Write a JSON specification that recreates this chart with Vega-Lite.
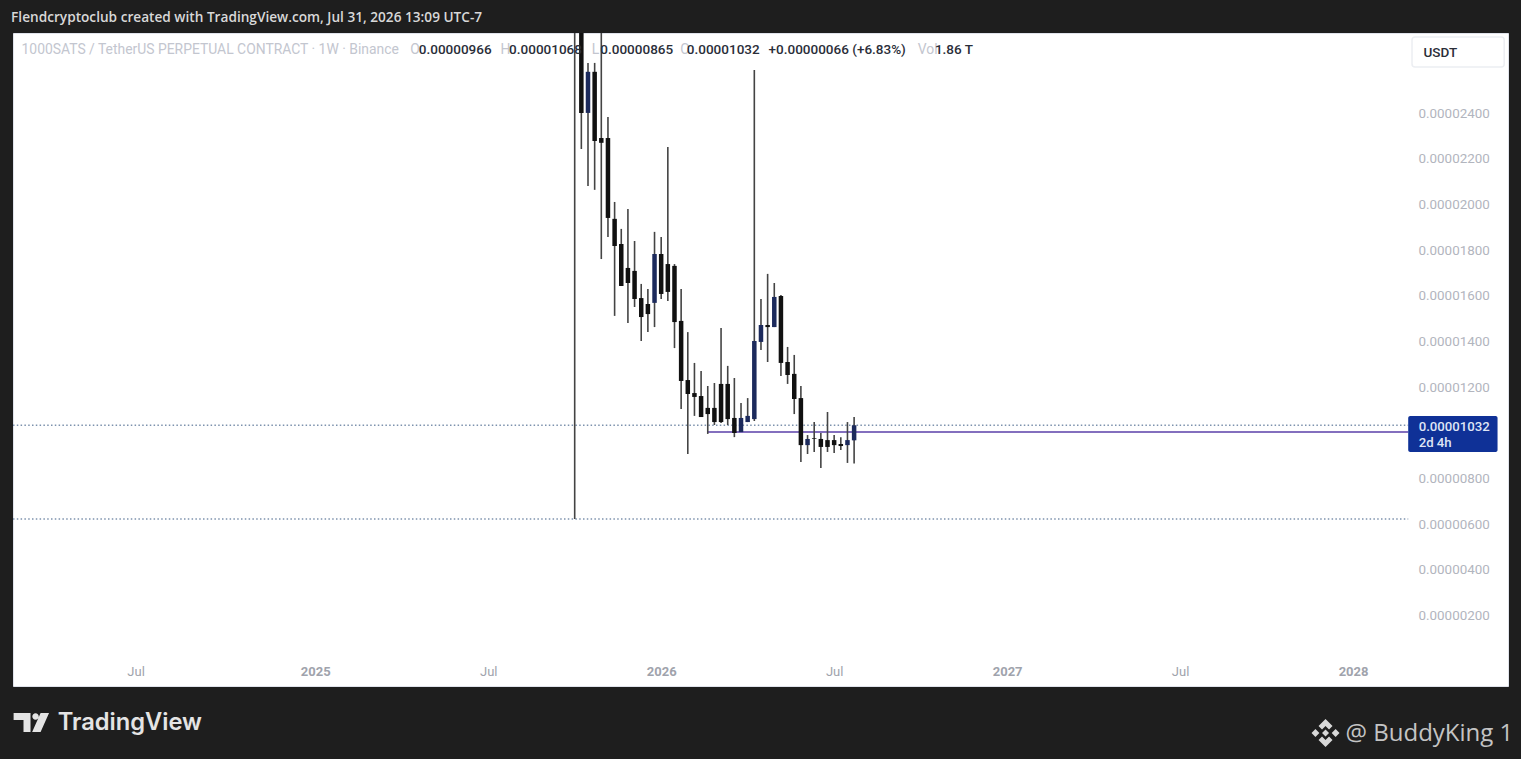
{
  "$schema": "https://vega.github.io/schema/vega-lite/v6.json",
  "autosize": {"type": "none"},
  "width": 1495,
  "height": 653,
  "padding": {"left": 13, "top": 33, "right": 13, "bottom": 73},
  "background": "#1e1e1e",
  "view": {"fill": "#ffffff", "stroke": "#e0e3eb"},
  "config": {"font": "Roboto"},
  "datasets": {
    "candles": [
      {"date": "2025-10-06", "open": 0.000032, "high": 0.000034, "low": 0.00000621, "close": 0.00003},
      {"date": "2025-10-13", "open": 0.00003, "high": 0.000031, "low": 0.00002242, "close": 0.000024},
      {"date": "2025-10-20", "open": 0.000024, "high": 0.00002619, "low": 0.0000208, "close": 0.0000258},
      {"date": "2025-10-27", "open": 0.0000258, "high": 0.00002619, "low": 0.00002063, "close": 0.00002277},
      {"date": "2025-11-03", "open": 0.0000229, "high": 0.000028, "low": 0.0000176, "close": 0.00002269},
      {"date": "2025-11-10", "open": 0.0000229, "high": 0.00002382, "low": 0.00001857, "close": 0.0000194},
      {"date": "2025-11-17", "open": 0.00001936, "high": 0.0000201, "low": 0.00001511, "close": 0.00001817},
      {"date": "2025-11-24", "open": 0.00001826, "high": 0.00001892, "low": 0.00001642, "close": 0.00001642},
      {"date": "2025-12-01", "open": 0.00001721, "high": 0.00001979, "low": 0.0000148, "close": 0.00001655},
      {"date": "2025-12-08", "open": 0.00001708, "high": 0.00001839, "low": 0.0000155, "close": 0.00001585},
      {"date": "2025-12-15", "open": 0.00001589, "high": 0.00001651, "low": 0.00001401, "close": 0.00001506},
      {"date": "2025-12-22", "open": 0.00001563, "high": 0.00001629, "low": 0.0000144, "close": 0.00001519},
      {"date": "2025-12-29", "open": 0.00001568, "high": 0.00001879, "low": 0.00001462, "close": 0.00001782},
      {"date": "2026-01-05", "open": 0.00001782, "high": 0.00001857, "low": 0.00001585, "close": 0.00001607},
      {"date": "2026-01-12", "open": 0.00001738, "high": 0.00002251, "low": 0.00001576, "close": 0.00001616},
      {"date": "2026-01-19", "open": 0.0000173, "high": 0.00001738, "low": 0.0000137, "close": 0.00001484},
      {"date": "2026-01-26", "open": 0.00001489, "high": 0.00001629, "low": 0.00001103, "close": 0.00001226},
      {"date": "2026-02-02", "open": 0.0000123, "high": 0.0000144, "low": 0.00000906, "close": 0.00001169},
      {"date": "2026-02-09", "open": 0.00001173, "high": 0.00001305, "low": 0.00001073, "close": 0.00001156},
      {"date": "2026-02-16", "open": 0.0000116, "high": 0.0000127, "low": 0.00001068, "close": 0.00001068},
      {"date": "2026-02-23", "open": 0.00001108, "high": 0.00001204, "low": 0.00000994, "close": 0.00001081},
      {"date": "2026-03-02", "open": 0.00001108, "high": 0.00001217, "low": 0.00001033, "close": 0.00001046},
      {"date": "2026-03-09", "open": 0.00001213, "high": 0.00001458, "low": 0.00001042, "close": 0.00001046},
      {"date": "2026-03-16", "open": 0.00001213, "high": 0.00001292, "low": 0.00001033, "close": 0.00001059},
      {"date": "2026-03-23", "open": 0.00001064, "high": 0.00001239, "low": 0.0000098, "close": 0.00000998},
      {"date": "2026-03-30", "open": 0.00001002, "high": 0.0000113, "low": 0.00001002, "close": 0.00001064},
      {"date": "2026-04-06", "open": 0.00001046, "high": 0.00001151, "low": 0.00001046, "close": 0.00001073},
      {"date": "2026-04-13", "open": 0.00001059, "high": 0.00002588, "low": 0.00001051, "close": 0.00001401},
      {"date": "2026-04-20", "open": 0.00001397, "high": 0.00001585, "low": 0.00001362, "close": 0.00001471},
      {"date": "2026-04-27", "open": 0.00001471, "high": 0.00001695, "low": 0.00001309, "close": 0.00001462},
      {"date": "2026-05-04", "open": 0.00001462, "high": 0.00001655, "low": 0.00001462, "close": 0.00001594},
      {"date": "2026-05-11", "open": 0.00001598, "high": 0.00001603, "low": 0.00001248, "close": 0.00001305},
      {"date": "2026-05-18", "open": 0.00001309, "high": 0.00001375, "low": 0.00001213, "close": 0.00001252},
      {"date": "2026-05-25", "open": 0.00001257, "high": 0.0000134, "low": 0.00001081, "close": 0.00001147},
      {"date": "2026-06-01", "open": 0.00001151, "high": 0.00001204, "low": 0.00000871, "close": 0.00000945},
      {"date": "2026-06-08", "open": 0.00000945, "high": 0.00000989, "low": 0.00000906, "close": 0.00000972},
      {"date": "2026-06-15", "open": 0.00000975, "high": 0.00001046, "low": 0.00000915, "close": 0.00000972},
      {"date": "2026-06-22", "open": 0.00000972, "high": 0.00000998, "low": 0.00000845, "close": 0.00000937},
      {"date": "2026-06-29", "open": 0.00000967, "high": 0.0000109, "low": 0.00000915, "close": 0.00000937},
      {"date": "2026-07-06", "open": 0.00000967, "high": 0.00000989, "low": 0.0000091, "close": 0.00000945},
      {"date": "2026-07-13", "open": 0.0000095, "high": 0.0000098, "low": 0.00000924, "close": 0.00000941},
      {"date": "2026-07-20", "open": 0.00000945, "high": 0.00001046, "low": 0.00000867, "close": 0.00000967},
      {"date": "2026-07-27", "open": 0.00000966, "high": 0.00001068, "low": 0.00000865, "close": 0.00001032}
    ],
    "dotted": [
      {"date": "2024-02-23", "end": "2028-03-01", "price": 0.00001032},
      {"date": "2024-02-23", "end": "2028-03-01", "price": 0.00000621}
    ],
    "support": [
      {"date": "2026-02-23", "end": "2028-03-01", "price": 0.00001002}
    ],
    "headerGray": [
      {"date": "2024-03-03", "price": 0.00002676, "text": "1000SATS / TetherUS PERPETUAL CONTRACT · 1W · Binance"},
      {"date": "2025-04-16", "price": 0.00002676, "text": "O"},
      {"date": "2025-07-20", "price": 0.00002676, "text": "H"},
      {"date": "2025-10-24", "price": 0.00002676, "text": "L"},
      {"date": "2026-01-25", "price": 0.00002676, "text": "C"},
      {"date": "2026-10-02", "price": 0.00002676, "text": "Vol"}
    ],
    "headerDark": [
      {"date": "2025-04-25", "price": 0.00002676, "text": "0.00000966"},
      {"date": "2025-07-29", "price": 0.00002676, "text": "0.00001068"},
      {"date": "2025-11-02", "price": 0.00002676, "text": "0.00000865"},
      {"date": "2026-02-01", "price": 0.00002676, "text": "0.00001032"},
      {"date": "2026-04-28", "price": 0.00002676, "text": "+0.00000066 (+6.83%)"},
      {"date": "2026-10-20", "price": 0.00002676, "text": "1.86 T"},
      {"date": "2028-03-17", "price": 0.00002663, "text": "USDT"}
    ],
    "priceTag": [
      {"date": "2028-03-01", "end": "2028-06-03", "price": 0.00001073, "price2": 0.00000915}
    ],
    "priceTagText": [
      {"date": "2028-03-12", "price": 0.00001026, "text": "0.00001032"},
      {"date": "2028-03-12", "price": 0.00000953, "text": "2d 4h"}
    ],
    "unitBox": [
      {"date": "2028-03-05", "end": "2028-06-10", "price": 0.00002733, "price2": 0.00002601}
    ],
    "caption": [
      {"date": "2024-02-21", "price": 0.00002815, "text": "Flendcryptoclub created with TradingView.com, Jul 31, 2026 13:09 UTC-7"}
    ],
    "brand": [
      {"date": "2024-04-10", "price": -0.00000274, "text": "TradingView"}
    ],
    "handle": [
      {"date": "2027-12-26", "price": -0.0000032, "text": "@ BuddyKing 1"}
    ],
    "tvLogo": [
      {"date": "2024-03-13", "price": -0.0000027}
    ],
    "binanceLogo": [
      {"date": "2027-12-05", "price": -0.00000316}
    ]
  },
  "encoding": {
    "x": {
      "field": "date",
      "type": "temporal",
      "title": null,
      "scale": {"type": "utc", "domain": ["2024-02-23", "2028-06-14"], "padding": 0},
      "axis": {
        "orient": "bottom",
        "values": [
          {"year": 2024, "month": 7, "date": 1, "utc": true},
          {"year": 2025, "month": 1, "date": 6, "utc": true},
          {"year": 2025, "month": 7, "date": 7, "utc": true},
          {"year": 2026, "month": 1, "date": 5, "utc": true},
          {"year": 2026, "month": 7, "date": 6, "utc": true},
          {"year": 2027, "month": 1, "date": 4, "utc": true},
          {"year": 2027, "month": 7, "date": 5, "utc": true},
          {"year": 2028, "month": 1, "date": 3, "utc": true}
        ],
        "labelExpr": "utcmonth(datum.value) == 0 ? '' + utcyear(datum.value) : 'Jul'",
        "labelFontWeight": {"expr": "utcmonth(datum.value) == 0 ? 'bold' : 'normal'"},
        "labelColor": "#a0a3ac",
        "labelFontSize": 13,
        "labelPadding": -15,
        "labelBaseline": "middle",
        "labelOverlap": false,
        "labelFlush": false,
        "ticks": false,
        "domain": false,
        "grid": false,
        "title": null
      }
    },
    "y": {
      "field": "price",
      "type": "quantitative",
      "title": null,
      "scale": {"domain": [-0.0000011, 0.0000275], "nice": false, "zero": false},
      "axis": {
        "orient": "right",
        "values": [0.000002, 0.000004, 0.000006, 0.000008, 0.000012, 0.000014, 0.000016, 0.000018, 0.00002, 0.000022, 0.000024],
        "format": ".8f",
        "labelColor": "#b2b5be",
        "labelFontSize": 13.4,
        "labelAlign": "left",
        "labelBaseline": "middle",
        "labelPadding": -90,
        "labelOffset": 0.3,
        "ticks": false,
        "domain": false,
        "grid": false,
        "title": null
      }
    }
  },
  "layer": [
    {
      "data": {"name": "dotted"},
      "mark": {"type": "rule", "color": "#7d92ad", "strokeWidth": 1.5, "strokeDash": [1.5, 2.3]},
      "encoding": {"x2": {"field": "end"}}
    },
    {
      "data": {"name": "support"},
      "mark": {"type": "rule", "color": "#5a3fa8", "strokeWidth": 1.5},
      "encoding": {"x2": {"field": "end"}}
    },
    {
      "data": {"name": "candles"},
      "mark": {"type": "rule", "color": "#444444", "strokeWidth": 1.6, "clip": true},
      "encoding": {
        "y": {"field": "high", "type": "quantitative", "title": null},
        "y2": {"field": "low"}
      }
    },
    {
      "data": {"name": "candles"},
      "mark": {"type": "bar", "size": 4.5, "clip": true},
      "encoding": {
        "y": {"field": "open", "type": "quantitative", "title": null},
        "y2": {"field": "close"},
        "color": {
          "condition": {"test": "datum.close > datum.open", "value": "#1c2a5c"},
          "value": "#111111"
        }
      }
    },
    {
      "data": {"name": "unitBox"},
      "mark": {"type": "rect", "fill": "#ffffff", "stroke": "#eceef2", "strokeWidth": 1.5, "cornerRadius": 3},
      "encoding": {"x2": {"field": "end"}, "y2": {"field": "price2"}}
    },
    {
      "data": {"name": "priceTag"},
      "mark": {"type": "rect", "fill": "#0f3197", "cornerRadius": 2},
      "encoding": {"x2": {"field": "end"}, "y2": {"field": "price2"}}
    },
    {
      "data": {"name": "priceTagText"},
      "mark": {"type": "text", "align": "left", "baseline": "middle", "color": "#dfe5f5", "fontSize": 13.2, "fontWeight": 500},
      "encoding": {"text": {"field": "text"}}
    },
    {
      "data": {"name": "headerGray"},
      "mark": {"type": "text", "align": "left", "baseline": "middle", "color": "#c3c6cf", "fontSize": 13.9},
      "encoding": {"text": {"field": "text"}}
    },
    {
      "data": {"name": "headerDark"},
      "mark": {"type": "text", "align": "left", "baseline": "middle", "color": "#2a2e39", "fontSize": 13.5, "fontWeight": 500},
      "encoding": {"text": {"field": "text"}}
    },
    {
      "data": {"name": "caption"},
      "mark": {"type": "text", "align": "left", "baseline": "middle", "color": "#d8d8d8", "fontSize": 13.65, "fontWeight": 600, "font": "Open Sans"},
      "encoding": {"text": {"field": "text"}}
    },
    {
      "data": {"name": "brand"},
      "mark": {"type": "text", "align": "left", "baseline": "middle", "color": "#e4e4e4", "fontSize": 23.7, "fontWeight": 600, "font": "Inter"},
      "encoding": {"text": {"field": "text"}}
    },
    {
      "data": {"name": "handle"},
      "mark": {"type": "text", "align": "left", "baseline": "middle", "color": "#c4c4c4", "fontSize": 24, "font": "Open Sans"},
      "encoding": {"text": {"field": "text"}}
    },
    {
      "data": {"name": "tvLogo"},
      "mark": {
        "type": "point",
        "filled": true,
        "color": "#e4e4e4",
        "opacity": 1,
        "size": 1296,
        "shape": "M-0.97 -0.53 L-0.03 -0.53 L-0.03 0.53 L-0.42 0.53 L-0.42 -0.14 L-0.97 -0.14 Z M0.53 -0.53 L1 -0.53 L0.53 0.53 L0.06 0.53 Z M0.07 -0.33 A0.18 0.18 0 1 0 0.43 -0.33 A0.18 0.18 0 1 0 0.07 -0.33 Z"
      }
    },
    {
      "data": {"name": "binanceLogo"},
      "mark": {
        "type": "point",
        "filled": true,
        "color": "#d8d8d8",
        "opacity": 1,
        "size": 784,
        "shape": "M0 -1 L0.5 -0.5 L0.25 -0.25 L0 -0.5 L-0.25 -0.25 L-0.5 -0.5 Z M0 1 L0.5 0.5 L0.25 0.25 L0 0.5 L-0.25 0.25 L-0.5 0.5 Z M-1 0 L-0.72 -0.28 L-0.44 0 L-0.72 0.28 Z M1 0 L0.72 -0.28 L0.44 0 L0.72 0.28 Z M0 -0.25 L0.25 0 L0 0.25 L-0.25 0 Z"
      }
    }
  ]
}
